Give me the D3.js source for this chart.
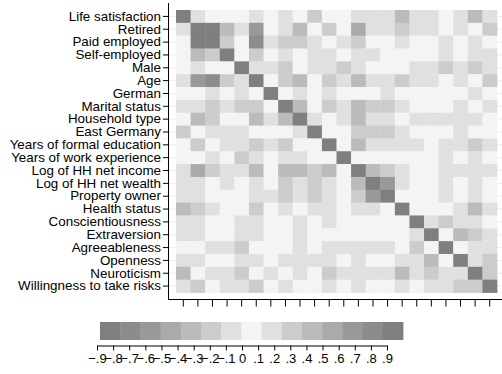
<!DOCTYPE html>
<html>
<head>
<meta charset="utf-8">
<script src="https://cdn.jsdelivr.net/npm/d3@7"></script>
<style>
  body { margin: 0; background: #fff; }
  svg { display: block; font-family: "Liberation Sans", Arial, sans-serif; }
</style>
</head>
<body>
<svg id="heat" width="502" height="374"></svg>
<script>
// Variable names (rows top to bottom, columns left to right)
const variables = [
  "Life satisfaction", "Retired", "Paid employed", "Self-employed", "Male", "Age",
  "German", "Marital status", "Household type", "East Germany",
  "Years of formal education", "Years of work experience", "Log of HH net income",
  "Log of HH net wealth", "Property owner", "Health status", "Conscientiousness",
  "Extraversion", "Agreeableness", "Openness", "Neuroticism", "Willingness to take risks"
];

// Lower triangle of the correlation matrix (row i holds columns 0..i)
const corrLower = [
  [1],
  [0.12, 1],
  [0.04, -0.76, 1],
  [0.02, -0.33, -0.27, 1],
  [-0.01, 0.14, 0.06, 0.08, 1],
  [-0.12, 0.58, -0.64, 0.22, 0.11, 1],
  [0.03, 0.07, -0.13, 0.02, -0.11, 0.05, 1],
  [0.14, 0.16, -0.21, 0.12, 0.23, 0.28, 0.04, 1],
  [0.06, -0.36, 0.24, -0.03, 0.02, -0.38, 0.12, -0.34, 1],
  [-0.22, 0.05, 0.11, -0.13, -0.12, 0.04, 0.06, -0.05, 0.13, 1],
  [0.07, -0.24, 0.05, 0.16, 0.12, -0.26, 0.18, -0.21, 0.03, 0.08, 1],
  [0.02, 0.06, 0.17, 0.04, 0.27, 0.14, 0.03, 0.11, 0.12, 0.05, -0.04, 1],
  [0.18, -0.42, 0.28, 0.13, 0.14, -0.36, 0.07, 0.37, -0.33, -0.22, 0.35, 0.06, 1],
  [0.16, 0.14, 0.03, 0.15, 0.06, 0.19, 0.02, 0.24, -0.13, -0.27, 0.17, 0.05, 0.39, 1],
  [0.15, 0.12, 0.02, 0.04, 0.03, 0.17, 0.13, 0.26, -0.16, -0.23, 0.11, 0.04, 0.28, 0.57, 1],
  [0.36, -0.21, 0.14, 0.04, 0.07, -0.29, 0.02, -0.11, 0.06, -0.12, 0.16, 0.03, 0.15, 0.12, 0.08, 1],
  [0.13, 0.11, -0.02, 0.03, -0.14, 0.12, 0.04, 0.06, 0.11, 0.02, -0.13, 0.03, 0.05, 0.04, 0.02, 0.06, 1],
  [0.14, -0.13, 0.05, 0.06, -0.12, -0.14, 0.02, 0.03, 0.12, 0.05, 0.04, 0.02, 0.06, 0.03, 0.04, 0.07, 0.17, 1],
  [0.04, 0.06, -0.11, -0.12, -0.23, 0.07, 0.03, 0.05, 0.14, 0.02, -0.13, -0.11, -0.12, -0.14, -0.13, 0.04, 0.26, 0.06, 1],
  [0.12, -0.14, 0.06, 0.08, -0.13, -0.16, 0.05, -0.11, -0.12, 0.14, 0.18, 0.03, 0.15, 0.07, 0.04, 0.13, 0.18, 0.37, 0.08, 1],
  [-0.34, 0.07, -0.12, -0.14, -0.26, 0.04, -0.13, 0.03, -0.11, 0.06, -0.21, -0.12, -0.16, -0.14, -0.12, -0.35, -0.15, -0.24, -0.13, -0.11, 1],
  [0.17, -0.22, 0.08, 0.16, 0.18, -0.27, 0.03, -0.12, 0.05, 0.02, 0.13, 0.06, 0.14, 0.07, 0.05, 0.15, 0.04, 0.19, -0.16, 0.28, -0.23, 1]
];

// Colour bins and legend ticks
const binEdges = [-0.7, -0.6, -0.5, -0.4, -0.3, -0.2, -0.1, 0.1, 0.2, 0.3, 0.4, 0.5, 0.6, 0.7];
const binColors = ["#7f7f7f", "#8c8c8c", "#999999", "#aaaaaa", "#bbbbbb", "#cccccc", "#e0e0e0",
  "#f4f4f4", "#e0e0e0", "#cccccc", "#bbbbbb", "#aaaaaa", "#999999", "#8c8c8c", "#7f7f7f"];
const legendTicks = [-0.9, -0.8, -0.7, -0.6, -0.5, -0.4, -0.3, -0.2, -0.1, 0, 0.1, 0.2, 0.3, 0.4, 0.5, 0.6, 0.7, 0.8, 0.9];

// Build full symmetric cell list
const cells = [];
variables.forEach((rv, i) => {
  variables.forEach((cv, j) => {
    const v = i >= j ? corrLower[i][j] : corrLower[j][i];
    cells.push({ row: rv, col: cv, value: v });
  });
});

const svg = d3.select("#heat");

const x = d3.scaleBand().domain(variables).range([176, 497]);
const y = d3.scaleBand().domain(variables).range([10, 292.5]);
const color = d3.scaleThreshold().domain(binEdges).range(binColors);

// Horizontal gridlines
svg.append("g")
  .selectAll("line")
  .data(variables)
  .enter().append("line")
  .attr("x1", 168).attr("x2", 502)
  .attr("y1", d => y(d) + y.bandwidth() / 2)
  .attr("y2", d => y(d) + y.bandwidth() / 2)
  .attr("stroke", "#e6eff0")
  .attr("stroke-width", 1);

// Heat cells
svg.append("g")
  .selectAll("rect")
  .data(cells)
  .enter().append("rect")
  .attr("x", d => x(d.col))
  .attr("y", d => y(d.row))
  .attr("width", x.bandwidth() + 0.4)
  .attr("height", y.bandwidth() + 0.4)
  .attr("fill", d => color(d.value));

// Y axis
const yAxis = svg.append("g")
  .attr("transform", "translate(168,0)")
  .call(d3.axisLeft(y).tickSize(5).tickPadding(2).tickSizeOuter(0));
yAxis.select(".domain").remove();
yAxis.selectAll("text").style("font-size", "13.4px").attr("fill", "#000");
yAxis.selectAll("line").attr("stroke", "#000");

svg.append("line")
  .attr("x1", 168.5).attr("x2", 168.5)
  .attr("y1", 3).attr("y2", 299.5)
  .attr("stroke", "#000");

// X axis (ticks only, no labels)
const xAxis = svg.append("g")
  .attr("transform", "translate(0,299.5)")
  .call(d3.axisBottom(x).tickSize(7).tickFormat("").tickSizeOuter(0));
xAxis.select(".domain").remove();
xAxis.selectAll("line").attr("stroke", "#000");

svg.append("line")
  .attr("x1", 168).attr("x2", 502)
  .attr("y1", 299.5).attr("y2", 299.5)
  .attr("stroke", "#000");

// Legend
const legendX = d3.scaleBand().domain(d3.range(binColors.length)).range([100, 403]);
svg.append("g")
  .selectAll("rect")
  .data(binColors)
  .enter().append("rect")
  .attr("x", (d, i) => legendX(i))
  .attr("y", 322)
  .attr("width", legendX.bandwidth() + 0.4)
  .attr("height", 18)
  .attr("fill", d => d);

const legendScale = d3.scaleLinear().domain([-0.9, 0.9]).range([97, 387]);
const fmt = v => v === 0 ? "0" : d3.format(".1f")(v).replace("0.", ".");
const legendAxis = svg.append("g")
  .attr("transform", "translate(0,345.5)")
  .call(d3.axisBottom(legendScale).tickValues(legendTicks).tickFormat(fmt)
    .tickSize(5).tickPadding(3).tickSizeOuter(0));
legendAxis.select(".domain").attr("stroke", "#000");
legendAxis.selectAll("line").attr("stroke", "#000");
legendAxis.selectAll("text").style("font-size", "13px").attr("fill", "#000");
</script>
</body>
</html>
